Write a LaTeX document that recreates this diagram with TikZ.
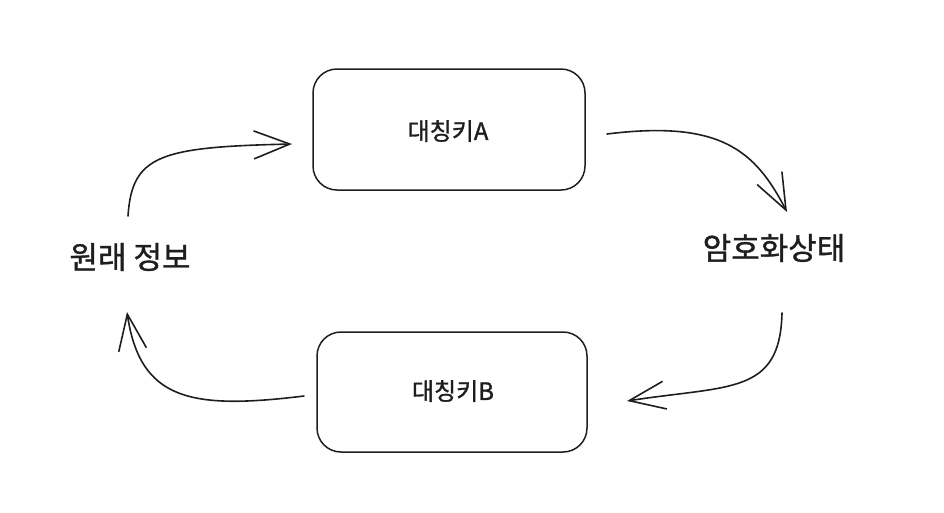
\documentclass[tikz,border=0pt]{standalone}
\usepackage{fontspec}
\setmainfont{Noto Sans CJK KR}[FakeBold=1.2]
\usetikzlibrary{arrows.meta}
\definecolor{ink}{HTML}{1E1E1E}
\tikzset{
  keybox/.style={draw=ink, line width=1.5pt, rounded corners=24pt, inner sep=0pt},
  conn/.style={draw=ink, line width=1.6pt, line cap=round,
    -{Straight Barb[length=36pt,width=28pt,line width=1.6pt]}},
  boxlabel/.style={font=\fontsize{24}{28}\selectfont, text=ink},
  biglabel/.style={font=\fontsize{31}{36}\selectfont, text=ink},
}
\begin{document}
\begin{tikzpicture}[x=1pt,y=-1pt]
\useasboundingbox (0,0) rectangle (944,512);
\node[keybox, minimum width=272pt, minimum height=121pt] (keyA) at (449,129.5) {};
\node[boxlabel] (labA) at (448,131) {대칭키A};
\node[keybox, minimum width=270pt, minimum height=120pt] (keyB) at (452,392) {};
\node[boxlabel] (labB) at (453,391) {대칭키B};
\node[biglabel] (orig) at (130,257) {원래 정보};
\node[biglabel] (enc) at (774,248) {암호화상태};
\coordinate (s1) at (128,216);
\coordinate (e1) at (292,144);
\coordinate (s2) at (607,134);
\coordinate (e2) at (787,212);
\coordinate (s3) at (782,313);
\coordinate (e3) at (627,401);
\coordinate (s4) at (304,396);
\coordinate (e4) at (127,312);
\draw[conn] (s1) .. controls (132,155) and (160,147) .. (e1);
\draw[conn] (s2) .. controls (720,120) and (755,150) .. (e2);
\draw[conn] (s3) .. controls (780,395) and (730,385) .. (e3);
\draw[conn] (s4) .. controls (190,410) and (140,400) .. (e4);
\end{tikzpicture}
\end{document}
